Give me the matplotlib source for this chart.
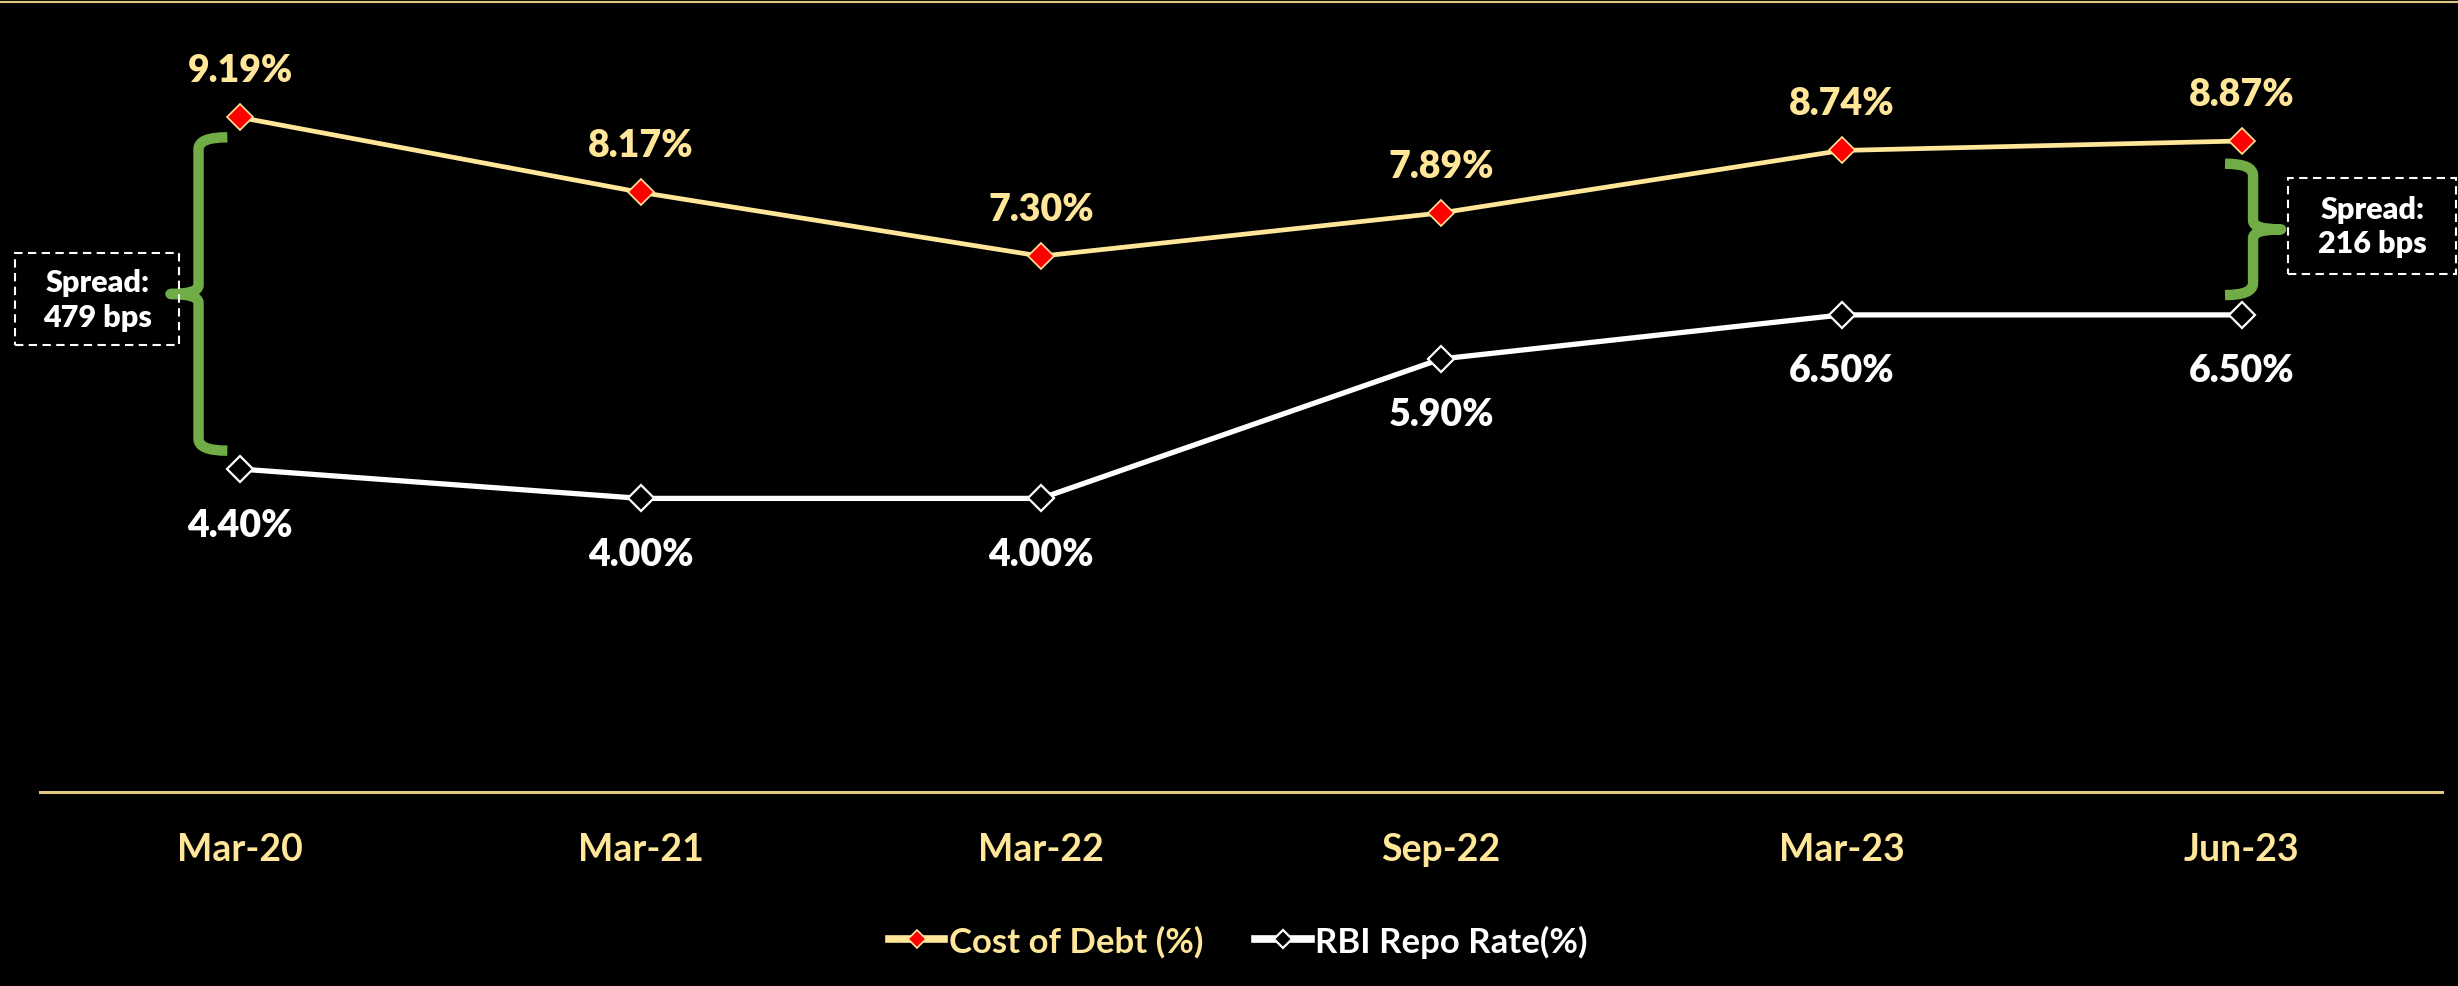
import matplotlib
matplotlib.use("Agg")
import matplotlib.pyplot as plt
from matplotlib.path import Path
from matplotlib.patches import PathPatch, Rectangle
from matplotlib.lines import Line2D

plt.rcParams['font.family'] = ['Lato', 'DejaVu Sans']
plt.rcParams['font.weight'] = 'bold'

# ---- data ----
periods = ['Mar-20', 'Mar-21', 'Mar-22', 'Sep-22', 'Mar-23', 'Jun-23']
cost_of_debt = [9.19, 8.17, 7.30, 7.89, 8.74, 8.87]
repo_rate = [4.40, 4.00, 4.00, 5.90, 6.50, 6.50]
spread_labels = ['Spread:\n479 bps', 'Spread:\n216 bps']

GOLD = '#FFE699'
AXIS_GOLD = '#E0C882'
RED = '#FF0000'
GREEN = '#70AD47'
BG = 'black'

W, H = 2458, 987
fig = plt.figure(figsize=(W / 100, H / 100), dpi=100, facecolor=BG)
ax = fig.add_axes([40 / W, (H - 793) / H, (2442 - 40) / W, 793 / H])
ax.set_facecolor(BG)

x = list(range(len(periods)))
ax.plot(x, cost_of_debt, color=GOLD, lw=3.4, marker='D', markersize=13.5,
        markerfacecolor=RED, markeredgecolor=GOLD, markeredgewidth=1.2,
        label='Cost of Debt (%)', zorder=3)
ax.plot(x, repo_rate, color='white', lw=3.8, marker='D', markersize=13.5,
        markerfacecolor=BG, markeredgecolor='white', markeredgewidth=1.6,
        label='RBI Repo Rate(%)', zorder=3)

# value labels
for xi, v in zip(x, cost_of_debt):
    ax.annotate(f'{v:.2f}%', (xi, v), xytext=(0, 34), textcoords='offset points',
                ha='center', va='center', fontsize=27, color=GOLD, fontweight='heavy')
for xi, v in zip(x, repo_rate):
    ax.annotate(f'{v:.2f}%', (xi, v), xytext=(0, -40), textcoords='offset points',
                ha='center', va='center', fontsize=27, color='white', fontweight='heavy')

ax.set_xlim(-0.5, len(periods) - 0.5)
ax.set_ylim(0, 793 / 73.4)
ax.set_xticks(x)
ax.set_xticklabels(periods, fontsize=27, color=GOLD, fontweight='bold')
ax.tick_params(axis='x', length=0, pad=29)
ax.set_yticks([])
for side in ['left', 'right', 'top']:
    ax.spines[side].set_visible(False)
ax.spines['bottom'].set_color(AXIS_GOLD)
ax.spines['bottom'].set_linewidth(2.2)

# thin rule along the top edge
fig.add_artist(Line2D([0, 1], [1 - 2.5 / H, 1 - 2.5 / H], transform=fig.transFigure,
                      color=AXIS_GOLD, lw=1.6))


def brace(ax, x_vert, x_arm, x_tip, y_top, y_bot, r=0.16, rm=0.12):
    """Curly brace: arms point toward x_arm, the middle nib toward x_tip."""
    y_mid = (y_top + y_bot) / 2
    verts = [
        (x_arm, y_top), (x_vert, y_top), (x_vert, y_top - r),
        (x_vert, y_mid + rm),
        (x_vert, y_mid), (x_tip, y_mid),
        (x_vert, y_mid), (x_vert, y_mid - rm),
        (x_vert, y_bot + r),
        (x_vert, y_bot), (x_arm, y_bot),
    ]
    codes = [Path.MOVETO, Path.CURVE3, Path.CURVE3,
             Path.LINETO,
             Path.CURVE3, Path.CURVE3,
             Path.CURVE3, Path.CURVE3,
             Path.LINETO,
             Path.CURVE3, Path.CURVE3]
    patch = PathPatch(Path(verts, codes), fill=False, edgecolor=GREEN, lw=7.5,
                      capstyle='butt', joinstyle='round', clip_on=False, zorder=2)
    ax.add_patch(patch)


# spread braces between the two series
brace(ax, -0.104, -0.032, -0.174, cost_of_debt[0] - 0.27, repo_rate[0] + 0.25)
brace(ax, 5.028, 4.958, 5.098, cost_of_debt[-1] - 0.31, repo_rate[-1] + 0.27)


def spread_box(ax, x0, x1, y0, y1, text):
    ax.add_patch(Rectangle((x0, y0), x1 - x0, y1 - y0, fill=False, edgecolor='white',
                           lw=1.5, linestyle=(0, (4, 2.6)), clip_on=False, zorder=2))
    ax.text((x0 + x1) / 2, (y0 + y1) / 2, text, ha='center', va='center',
            fontsize=22, color='white', fontweight='heavy', linespacing=1.3,
            clip_on=False)


spread_box(ax, -0.5615, -0.1517, 6.09, 7.34, spread_labels[0])
spread_box(ax, 5.116, 5.536, 7.057, 8.365, spread_labels[1])

leg = fig.legend(loc='center', bbox_to_anchor=(1238 / W, 1 - 942 / H), ncol=2,
                 frameon=False, fontsize=25, handlelength=1.6, handletextpad=0.12,
                 columnspacing=1.5, markerscale=0.7)
for txt, col in zip(leg.get_texts(), [GOLD, 'white']):
    txt.set_color(col)
    txt.set_fontweight('bold')
for line in leg.get_lines():
    line.set_linewidth(5.5)

fig.savefig('out.png', dpi=100, facecolor=BG)
